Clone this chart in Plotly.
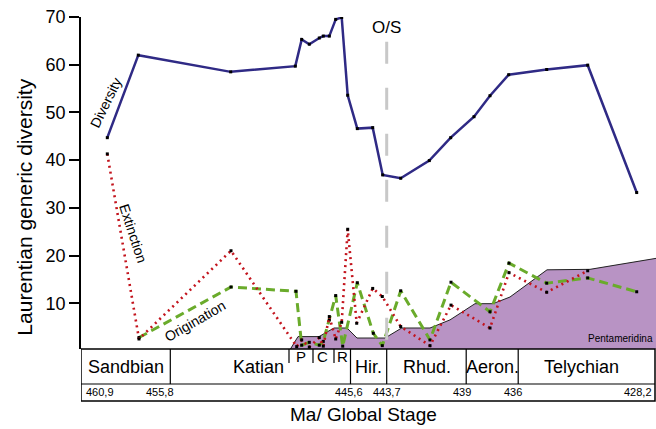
import plotly.graph_objects as go

# Position along the stratigraphic axis (chart units: 0 = 460.9 Ma at left, 574 = 428.2 Ma at right)
div_x = [26.3, 57.3, 149.7, 214.3, 220.7, 228.3, 238.3, 242.3, 248.3, 254.7, 260.7, 266.7,
         276.3, 291.7, 301.7, 319.7, 348.3, 369.7, 393.0, 409.0, 427.7, 465.7, 506.7, 555.7]
div_y = [44.7, 62.0, 58.5, 59.7, 65.3, 64.3, 65.6, 66.0, 66.0, 69.5, 69.9, 53.6,
         46.6, 46.8, 36.9, 36.2, 39.9, 44.7, 49.1, 53.5, 57.9, 59.0, 59.9, 33.2]

ext_x = [26.3, 58, 150, 215.7, 220.7, 228.3, 238.3, 242.3, 248.3, 254.7, 260.7, 266.7,
         275.7, 291.7, 301.3, 319.7, 349, 370, 409, 428, 465.7, 506.7]
ext_y = [41.3, 2.5, 21.0, 0.9, 2.3, 0.8, 2.8, 1.0, 7.2, 2.5, 6.0, 25.5,
         5.8, 13.1, 11.4, 5.1, 1.1, 9.6, 4.8, 16.4, 12.3, 16.8]

orig_x = [58, 150, 215, 220.7, 228.3, 238.3, 242.3, 248.3, 254.7, 261.7, 276.3, 292.3,
          301.3, 319.7, 349, 370, 409, 428, 465.7, 506.7, 555.7]
orig_y = [2.8, 13.4, 12.5, 1.2, 1.8, 1.2, 2.0, 6.5, 11.6, 1.0, 14.3, 3.7,
          1.1, 12.6, 2.3, 14.4, 8.2, 18.4, 14.2, 15.3, 12.4]

pent_x = [208.3, 217, 238, 243, 253, 266, 276, 304, 320.7, 349, 369, 394, 412, 429, 466, 509, 575]
pent_y = [0, 3.0, 3.0, 3.6, 4.8, 4.8, 2.7, 2.7, 4.8, 4.8, 6.5, 9.9, 9.9, 11.3, 17.0, 17.1, 19.4]

# Stage scale
stage_bounds = [0, 89.3, 269.5, 305.7, 385.2, 437.2, 574]
sub_bounds = [208, 232, 253]
stage_names = ["Sandbian", "Katian", "Hir.", "Rhud.", "Aeron.", "Telychian"]
stage_label_x = [45, 177.5, 287, 346, 411.5, 500]
sub_names = ["P", "C", "R"]
sub_label_x = [219.8, 241.5, 261.5]
age_labels = ["460,9", "455,8", "445,6", "443,7", "439", "436", "428,2"]
age_label_x = [2.6, 79.3, 268.3, 306.3, 381, 432.4, 573]
os_boundary = 305.7

FONT = "Liberation Sans, Arial, Helvetica, sans-serif"

fig = go.Figure()
fig.add_trace(go.Scatter(x=pent_x, y=pent_y, mode="lines", fill="tozeroy",
                         fillcolor="#b893c4", line=dict(color="#222222", width=1),
                         hoverinfo="skip", showlegend=False))
fig.add_trace(go.Scatter(x=orig_x, y=orig_y, mode="lines+markers",
                         line=dict(color="#6aab2b", width=3, dash="9px,5px"),
                         marker=dict(color="black", size=3, symbol="square"),
                         showlegend=False))
fig.add_trace(go.Scatter(x=ext_x, y=ext_y, mode="lines+markers",
                         line=dict(color="#c3141d", width=2.6, dash="2px,4px"),
                         marker=dict(color="black", size=3, symbol="square"),
                         showlegend=False))
fig.add_trace(go.Scatter(x=div_x, y=div_y, mode="lines+markers",
                         line=dict(color="#2f2a85", width=2.5),
                         marker=dict(color="black", size=3, symbol="square"),
                         showlegend=False))

shapes = []
# O/S dashed boundary
shapes.append(dict(type="line", xref="x", yref="y", x0=os_boundary, x1=os_boundary,
                   y0=64.8, y1=0.4, line=dict(color="#c8c8c8", width=3, dash="22px,24px"),
                   layer="above"))
# stage box
row1 = -0.1054
row2 = -0.1566
shapes.append(dict(type="rect", xref="x", yref="paper", x0=stage_bounds[0], x1=stage_bounds[-1],
                   y0=row2, y1=0, line=dict(color="black", width=1.5)))
shapes.append(dict(type="line", xref="x", yref="paper", x0=stage_bounds[0], x1=stage_bounds[-1],
                   y0=row1, y1=row1, line=dict(color="black", width=1.2)))
for b in stage_bounds[1:-1]:
    shapes.append(dict(type="line", xref="x", yref="paper", x0=b, x1=b, y0=row1, y1=0,
                       line=dict(color="black", width=1.2)))
for b in sub_bounds:
    shapes.append(dict(type="line", xref="x", yref="paper", x0=b, x1=b, y0=-0.042, y1=0,
                       line=dict(color="black", width=1.2)))

ann = []
for name, xx in zip(stage_names, stage_label_x):
    ann.append(dict(x=xx, y=-0.054, xref="x", yref="paper", text=name, showarrow=False,
                    font=dict(size=18, color="black", family=FONT), yanchor="middle"))
for name, xx in zip(sub_names, sub_label_x):
    ann.append(dict(x=xx, y=-0.022, xref="x", yref="paper", text=name, showarrow=False,
                    font=dict(size=15, color="black", family=FONT), yanchor="middle"))
for i, (lab, xx) in enumerate(zip(age_labels, age_label_x)):
    anchor = "left" if i == 0 else ("right" if i == len(age_labels) - 1 else "center")
    ann.append(dict(x=xx, y=-0.1305, xref="x", yref="paper", text=lab, showarrow=False,
                    xanchor=anchor, font=dict(size=11, color="black", family=FONT),
                    yanchor="middle"))
ann.append(dict(x=282.3, y=-0.196, xref="x", yref="paper", text="Ma/ Global Stage",
                showarrow=False, font=dict(size=19, color="black", family=FONT),
                yanchor="middle"))
ann.append(dict(x=-0.099, y=0.426, xref="paper", yref="paper", text="Laurentian generic diversity",
                showarrow=False, textangle=-90, font=dict(size=21, color="black", family=FONT),
                xanchor="center", yanchor="middle"))
ann.append(dict(x=os_boundary, y=67.8, xref="x", yref="y", text="O/S", showarrow=False,
                font=dict(size=17, color="black", family=FONT)))
ann.append(dict(x=24.5, y=52.0, xref="x", yref="y", text="Diversity", showarrow=False,
                textangle=-64, font=dict(size=14, color="black", family=FONT)))
ann.append(dict(x=52, y=24.7, xref="x", yref="y", text="Extinction", showarrow=False,
                textangle=72, font=dict(size=14, color="black", family=FONT)))
ann.append(dict(x=114, y=6.3, xref="x", yref="y", text="Origination", showarrow=False,
                textangle=-30, font=dict(size=14, color="black", family=FONT)))
ann.append(dict(x=574, y=2.5, xref="x", yref="y", text="Pentameridina", showarrow=False,
                xanchor="right", font=dict(size=10, color="black", family=FONT)))

fig.update_layout(
    width=656, height=429,
    margin=dict(l=81, r=0, t=17, b=80),
    paper_bgcolor="white", plot_bgcolor="white",
    font=dict(family=FONT, color="black"),
    xaxis=dict(range=[0, 575], visible=False, showgrid=False, zeroline=False),
    yaxis=dict(range=[0.4, 70], tickvals=[10, 20, 30, 40, 50, 60, 70], ticks="outside",
               ticklen=10, tickwidth=1.5, tickcolor="black", showline=True, linewidth=1.5,
               linecolor="black", showgrid=False, zeroline=False,
               tickfont=dict(size=18, color="black", family=FONT)),
    shapes=shapes, annotations=ann, showlegend=False,
)

fig.write_html("out.html", config={"displayModeBar": False},
               post_script="document.body.style.margin='0';document.body.style.overflow='hidden';")
